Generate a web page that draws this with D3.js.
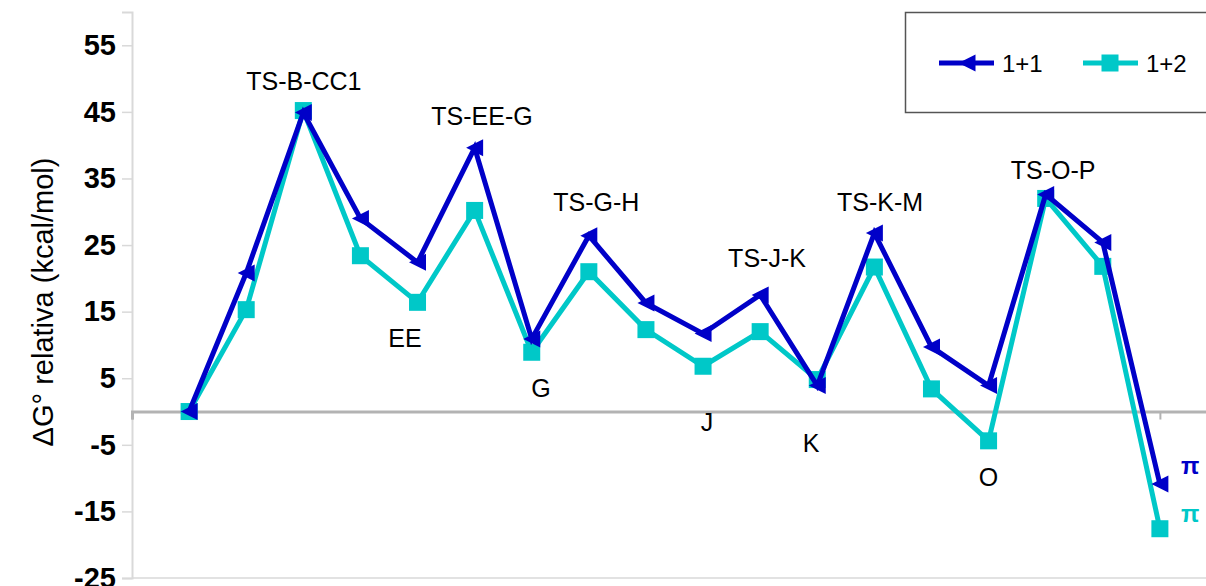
<!DOCTYPE html>
<html>
<head>
<meta charset="utf-8">
<script src="https://cdn.jsdelivr.net/npm/d3@7"></script>
<style>
  html, body { margin: 0; padding: 0; background: #fff; }
  svg { display: block; font-family: "Liberation Sans", Arial, sans-serif; }
</style>
</head>
<body>
<svg id="chart" width="1206" height="586"></svg>
<script>
// ---- data ----
const steps = [1, 2, 3, 4, 5, 6, 7, 8, 9, 10, 11, 12, 13, 14, 15, 16, 17, 18];
const seriesNames = ["1+1", "1+2"];
const values11 = [0, 20.8, 44.9, 29.0, 22.4, 39.6, 10.9, 26.4, 16.3, 11.7, 17.5, 3.9, 26.8, 9.7, 3.9, 32.6, 25.4, -10.9];
const values12 = [0, 15.3, 45.2, 23.4, 16.4, 30.2, 8.9, 21.0, 12.3, 6.8, 12.0, 4.8, 21.7, 3.4, -4.4, 32.0, 21.8, -17.6];
const yTicks = [-25, -15, -5, 5, 15, 25, 35, 45, 55];
const yTickLabels = ["-25", "-15", "-5", "5", "15", "25", "35", "45", "55"];
const xTicks = [0, 18];
// annotation labels: text, step position, value position, series colour key
const labelTexts = ["TS-B-CC1", "TS-EE-G", "TS-G-H", "TS-J-K", "TS-K-M", "TS-O-P", "EE", "G", "J", "K", "O", "π", "π"];
const labelSteps = [3.01, 6.13, 8.13, 11.12, 13.1, 16.13, 4.78, 7.16, 10.07, 11.89, 15.0, 18.53, 18.53];
const labelValues = [49.6, 44.4, 31.5, 23.0, 31.5, 36.3, 11.0, 3.5, -1.5, -4.7, -9.8, -8.0, -15.2];
const labelSeries = [null, null, null, null, null, null, null, null, null, null, null, 0, 1];

const colors = ["#0000c8", "#00c8c8"];

(function () {
const svg = d3.select("#chart");
const pL = 132, pT = 12, pB = 578, pR = 1217;

const x = d3.scaleLinear().domain([0, 19]).range([pL, pR]);
const y = d3.scaleLinear().domain([-25, 60]).range([pB, pT]);

// y axis
const yAxis = d3.axisLeft(y).tickValues(yTicks).tickSize(10).tickPadding(6)
  .tickFormat(d => yTickLabels[yTicks.indexOf(d)]);
const gy = svg.append("g").attr("transform", `translate(${pL},0)`).call(yAxis);
gy.select(".domain").attr("stroke", "#d9d9d9").attr("stroke-width", 2);
gy.selectAll(".tick line").attr("stroke", "#d9d9d9").attr("stroke-width", 1.5);
gy.selectAll(".tick text").attr("font-size", 29).attr("font-weight", "bold")
  .attr("fill", "#000").attr("font-family", "Liberation Sans, Arial, sans-serif");

// bottom border
svg.append("line").attr("x1", pL).attr("x2", 1206).attr("y1", y(-25)).attr("y2", y(-25))
  .attr("stroke", "#d9d9d9").attr("stroke-width", 1.5);

// x axis at zero
const xAxis = d3.axisBottom(x).tickValues(xTicks).tickSize(8).tickFormat("");
const gx = svg.append("g").attr("transform", `translate(0,${y(0)})`).call(xAxis);
gx.select(".domain").attr("stroke", "#b3b3b3").attr("stroke-width", 3);
gx.selectAll(".tick line").attr("stroke", "#b3b3b3").attr("stroke-width", 2);

// y title
svg.append("text")
  .attr("transform", `translate(53,${(pT + pB) / 2 + 7}) rotate(-90)`)
  .attr("text-anchor", "middle")
  .attr("font-size", 29)
  .attr("fill", "#000")
  .text("ΔG° relativa (kcal/mol)");

// series
const series = [values12, values11];
const seriesIdx = [1, 0];
const line = d3.line().x((d, i) => x(steps[i])).y(d => y(d));
const tri = d3.symbol().type({
  draw(ctx, size) {
    const h = Math.sqrt(size) / 2;
    ctx.moveTo(h, -h); ctx.lineTo(h, h); ctx.lineTo(-h, 0); ctx.closePath();
  }
}).size(17 * 17);

series.forEach((vals, k) => {
  const si = seriesIdx[k];
  const g = svg.append("g");
  g.append("path").datum(vals).attr("d", line).attr("fill", "none")
    .attr("stroke", colors[si]).attr("stroke-width", 5).attr("stroke-linejoin", "miter");
  if (si === 1) {
    g.selectAll("rect").data(vals).enter().append("rect")
      .attr("x", (d, i) => x(steps[i]) - 8.5).attr("y", d => y(d) - 8.5)
      .attr("width", 17).attr("height", 17).attr("fill", colors[si]);
  } else {
    g.selectAll("path.m").data(vals).enter().append("path").attr("class", "m")
      .attr("d", tri).attr("transform", (d, i) => `translate(${x(steps[i])},${y(d)})`)
      .attr("fill", colors[si]);
  }
});

// annotations
labelTexts.forEach((t, i) => {
  const s = labelSeries[i];
  svg.append("text")
    .attr("x", x(labelSteps[i])).attr("y", y(labelValues[i]) + 9)
    .attr("text-anchor", "middle")
    .attr("font-size", s === null ? 25 : 24)
    .attr("font-weight", s === null ? "normal" : "bold")
    .attr("fill", s === null ? "#000" : colors[s])
    .text(t);
});

// legend
const lg = svg.append("g");
lg.append("rect").attr("x", 905.5).attr("y", 12.5).attr("width", 320).attr("height", 100)
  .attr("fill", "#fff").attr("stroke", "#555").attr("stroke-width", 1.5);
const legendX = [939, 1083];
seriesNames.forEach((name, i) => {
  const lx = legendX[i], ly = 63;
  lg.append("line").attr("x1", lx).attr("x2", lx + 55).attr("y1", ly).attr("y2", ly)
    .attr("stroke", colors[i]).attr("stroke-width", 5);
  if (i === 0) {
    lg.append("path").attr("d", tri).attr("transform", `translate(${lx + 28},${ly})`).attr("fill", colors[i]);
  } else {
    lg.append("rect").attr("x", lx + 27 - 8.5).attr("y", ly - 8.5).attr("width", 17).attr("height", 17).attr("fill", colors[i]);
  }
  lg.append("text").attr("x", lx + 63).attr("y", ly + 8.5).attr("font-size", 24).attr("fill", "#000").text(name);
});
})();
</script>
</body>
</html>
